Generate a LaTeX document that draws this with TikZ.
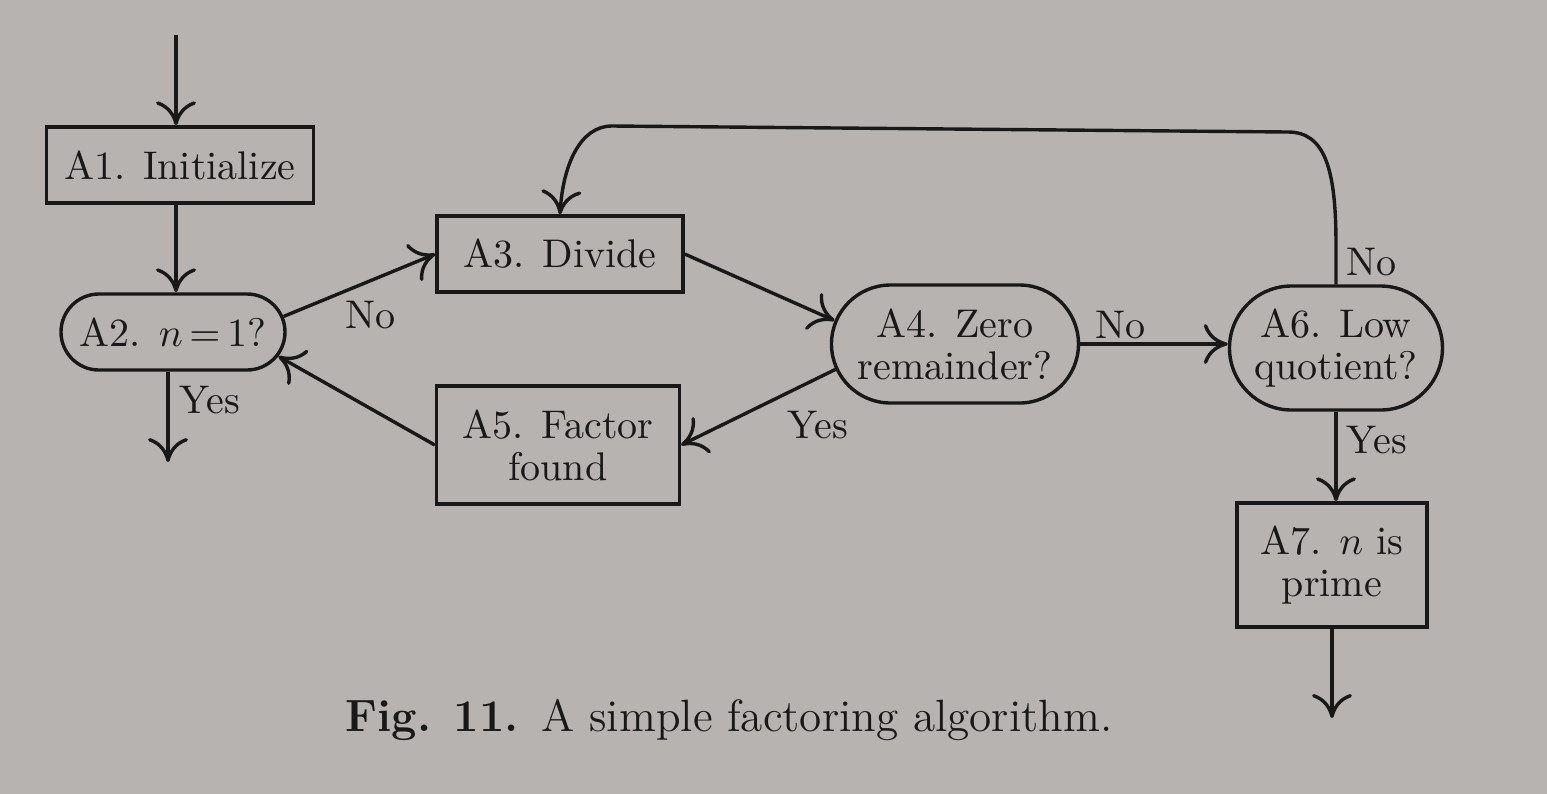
\documentclass[tikz,border=0pt]{standalone}
\usepackage{tikz}
\usetikzlibrary{arrows.meta,shapes.misc}
\definecolor{paper}{RGB}{182,179,176}
\definecolor{ink}{RGB}{24,24,24}
\newcommand{\fw}[2]{\makebox[#1][c]{#2}}
\begin{document}
\begin{tikzpicture}[x=0.25pt,y=-0.25pt, line width=0.85pt,
  every node/.style={text=ink},
  box/.style={draw=ink, rectangle, inner sep=0pt, align=center,
    font=\fontsize{10}{10.5}\selectfont},
  dec/.style={draw=ink, rounded rectangle, inner sep=0pt, align=center,
    font=\fontsize{10}{10.5}\selectfont},
  arr/.style={draw=ink, -{Computer Modern Rightarrow[length=6pt,width=10pt]}},
  lab/.style={inner sep=0pt, font=\fontsize{10}{12}\selectfont}]
\fill[paper] (0,0) rectangle (1547,794);
\useasboundingbox (0,0) rectangle (1547,794);

\node[box, minimum width=66.75pt, minimum height=19pt] (A1) at (180,165) {A1. Initialize};
\node[dec, minimum width=56pt, minimum height=19pt] (A2) at (173,332) {\fw{37pt}{A2. $n\,{=}\,1$?}};
\node[box, minimum width=61.5pt, minimum height=19pt] (A3) at (560,254) {A3. Divide};
\node[dec, minimum width=61.75pt, minimum height=29.5pt] (A4) at (955,344)
  {\fw{32.25pt}{A4. Zero}\\\fw{32.25pt}{remainder?}};
\node[box, minimum width=60.75pt, minimum height=29.5pt] (A5) at (558,445) {A5. Factor\\found};
\node[dec, minimum width=53.25pt, minimum height=31pt] (A6) at (1336,348)
  {\fw{22.25pt}{A6. Low}\\\fw{22.25pt}{quotient?}};
\node[box, minimum width=47.5pt, minimum height=31pt] (A7) at (1332,565) {A7. $n$ is\\prime};

\coordinate (in) at (176,35);
\coordinate (out2) at (168,462);
\coordinate (out7) at (1335,718);
\coordinate (tr) at (1288,132);
\coordinate (tl) at (612,126);

\draw[arr] (in) -- (in |- A1.north);
\draw[arr] (in |- A1.south) -- (in |- A2.north);
\draw[arr] (A2.south -| out2) -- (out2);
\draw[arr] (A2.8) -- (A3.west);
\draw[arr] (A3.east) -- (A4.169);
\draw[arr] (A4.east) -- (A4.east -| A6.west);
\draw[arr] (A4.192) -- (A5.east);
\draw[arr] (A5.west) -- (A2.-13);
\draw[arr] (A6.south) -- (A6.south |- A7.north);
\draw[arr] (A7.south) -- (A7.south |- out7);
\draw[arr] (A6.north) -- ++(0,-40) .. controls +(0,-75) and (1325,132) .. (tr)
  -- (tl) .. controls (580,126) and (563,165) .. (A3.north);

\node[lab] (lno2) at (370,315) {No};
\node[lab] (lyes2) at (210,400) {Yes};
\node[lab] (lno4) at (1120,325) {No};
\node[lab] (lyes4) at (818,425) {Yes};
\node[lab] (lno6) at (1372,262) {No};
\node[lab] (lyes6) at (1377,440) {Yes};

\node[inner sep=0pt, font=\fontsize{11.3}{13}\selectfont] (cap) at (729,720)
  {\textbf{Fig. 11.}\enspace A simple factoring algorithm.};
\end{tikzpicture}
\end{document}
